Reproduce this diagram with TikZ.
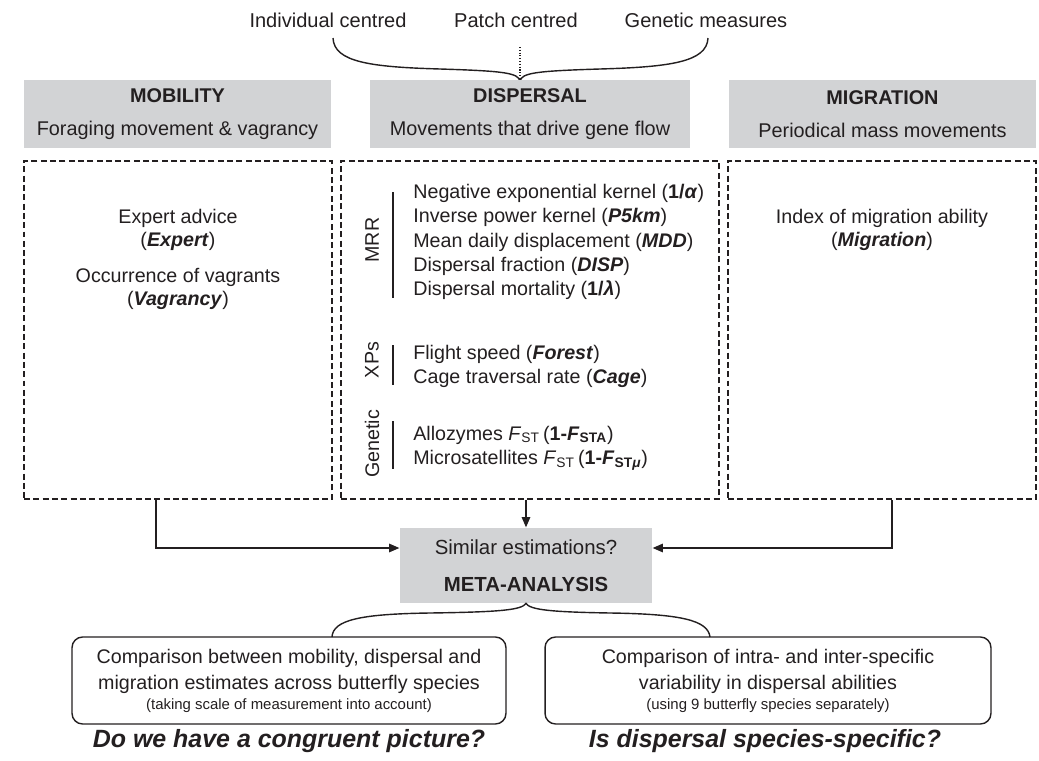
\documentclass[tikz,border=0pt]{standalone}
\usepackage{fontspec}
\setmainfont{Liberation Sans}
\usepackage{xcolor}
\usetikzlibrary{arrows.meta,positioning,calc}

\definecolor{hdgray}{RGB}{210,211,213}
\definecolor{ink}{RGB}{35,31,32}
\newcommand{\bi}[1]{\textbf{\textit{#1}}}
\newcommand{\mainfs}{\fontsize{11.2}{13.9}\selectfont}

\begin{document}
\begin{tikzpicture}[x=0.02cm, y=-0.02cm,
    every node/.style={text=ink},
    lbl/.style={inner sep=0pt, font=\mainfs},
    head/.style={fill=hdgray, align=center, inner sep=0pt,
                 minimum height=1.36cm, font=\fontsize{11.3}{13.9}\selectfont},
    dbox/.style={draw=ink, line width=0.9pt, dash pattern=on 3.4pt off 1.9pt,
                 minimum height=6.76cm, inner sep=0pt},
    grp/.style={lbl, align=left, anchor=west},
    side/.style={lbl, rotate=90},
    rbox/.style={draw=ink, line width=0.8pt, rounded corners=6pt, align=center,
                 minimum height=1.74cm, inner sep=0pt,
                 font=\fontsize{11.2}{14.8}\selectfont},
    quest/.style={inner sep=0pt, font=\fontsize{14.2}{17}\selectfont\bfseries\itshape},
    arr/.style={-{Triangle[length=6pt,width=4.6pt]}, line width=1.4pt, draw=ink},
    brace/.style={line width=0.8pt, draw=ink}]
  \useasboundingbox (0,0) rectangle (1039,761);

  % approaches
  \node[lbl, font=\fontsize{11.4}{14}\selectfont] (indiv) at (328,20) {Individual centred};
  \node[lbl, font=\fontsize{11.4}{14}\selectfont] (patch) at (516,20) {Patch centred};
  \node[lbl, font=\fontsize{11.4}{14}\selectfont] (genm) at (706,20) {Genetic measures};
  \coordinate (btip) at (520,81);
  \coordinate (dtop) at (520,47);
  \draw[brace] (333,38) .. controls (334,62) and (370,67) .. (440,69)
               .. controls (505,71) and (518,73) .. (btip)
               .. controls (522,73) and (535,71) .. (600,69)
               .. controls (670,67) and (707,62) .. (708,38);
  \draw[densely dotted, line width=0.6pt, draw=ink] (dtop) -- (btip);

  % headers
  \node[head, minimum width=6.14cm] (mobh) at (177.5,114)
    {\textbf{MOBILITY}\\[4.9pt]Foraging movement \& vagrancy};
  \node[head, minimum width=6.4cm] (disph) at (530,114)
    {\textbf{DISPERSAL}\\[4.9pt]Movements that drive gene flow};
  \node[head, minimum width=6.14cm] (migh) at (882.5,114)
    {\textbf{MIGRATION}\\[4.9pt]Periodical mass movements};

  % dashed boxes
  \node[dbox, minimum width=6.16cm] (mobbox) at (178,330) {};
  \node[dbox, minimum width=7.56cm] (dispbox) at (530,330) {};
  \node[dbox, minimum width=6.16cm] (migbox) at (882,330) {};

  \node[lbl, align=center, font=\fontsize{11.2}{13.1}\selectfont] (expert) at (178,229.5)
    {Expert advice\\(\bi{Expert})};
  \node[lbl, align=center, font=\fontsize{11.2}{13.1}\selectfont] (vagr) at (178,288.5)
    {Occurrence of vagrants\\(\bi{Vagrancy})};
  \node[lbl, align=center, font=\fontsize{11.2}{13.1}\selectfont] (migidx) at (882,229.5)
    {Index of migration ability\\(\bi{Migration})};

  \node[grp] (mrr) at (413,242)
    {Negative exponential kernel (\textbf{1/\textit{α}})\\
     Inverse power kernel (\bi{P5km})\\
     Mean daily displacement (\bi{MDD})\\
     Dispersal fraction (\bi{DISP})\\
     Dispersal mortality (\textbf{1/\textit{λ}})};
  \node[grp] (xps) at (413,366.5)
    {Flight speed (\bi{Forest})\\
     Cage traversal rate (\bi{Cage})};
  \node[grp] (gen) at (413,448)
    {Allozymes \textit{F}\textsubscript{ST}\,(\textbf{1-\textit{F}\textsubscript{STA}})\\
     Microsatellites \textit{F}\textsubscript{ST}\,(\textbf{1-\textit{F}\textsubscript{ST\textit{μ}}})};
  \node[side] (mrrl) at (372,240) {MRR};
  \node[side] (xpsl) at (372,360) {XPs};
  \node[side] (genl) at (372,444) {Genetic};
  \draw[brace] (393,192) -- (393,298);
  \draw[brace] (393,345) -- (393,385);
  \draw[brace] (393,421) -- (393,469);

  % meta-analysis
  \node[head, minimum width=5.04cm, minimum height=1.5cm,
        font=\fontsize{11.6}{14}\selectfont] (meta) at (526,565.5)
    {Similar estimations?\\[7pt]\textbf{META-ANALYSIS}};
  \draw[arr] ($(mobbox.south west)+(133,0)$) |- ($(meta.west)+(0,-17.5)$);
  \draw[arr] (dispbox.south -| meta.north) -- (meta.north);
  \draw[arr] ($(migbox.south west)+(165,0)$) |- ($(meta.east)+(0,-17.5)$);

  % comparisons
  \node[rbox, minimum width=8.68cm] (cmpl) at (289,680.5)
    {Comparison between mobility, dispersal and\\
     migration estimates across butterfly species\\[-3.4pt]
     {\fontsize{8.5}{10}\selectfont (taking scale of measurement into account)}};
  \node[rbox, minimum width=8.92cm] (cmpr) at (768,680.5)
    {Comparison of intra- and inter-specific\\
     variability in dispersal abilities\\[-3.4pt]
     {\fontsize{8.5}{10}\selectfont (using 9 butterfly species separately)}};
  \coordinate (bl) at (332,637);
  \coordinate (br) at (710,637);
  \draw[brace] (bl) .. controls (333,620) and (360,614) .. (430,613)
               .. controls (500,612) and (522,610) .. (meta.south)
               .. controls (530,610) and (552,612) .. (610,613)
               .. controls (680,614) and (708,620) .. (br);

  \node[quest] (q1) at (289,741) {Do we have a congruent picture?};
  \node[quest] (q2) at (765,741) {Is dispersal species-specific?};
\end{tikzpicture}
\end{document}
